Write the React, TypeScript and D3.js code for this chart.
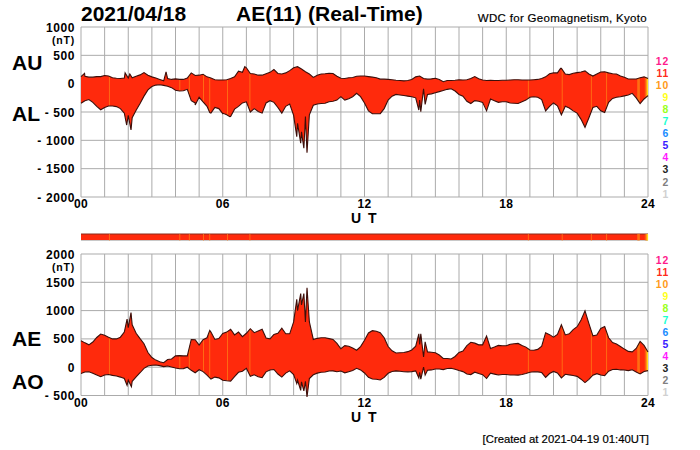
import React, { useEffect, useRef } from "react";
import * as d3 from "d3";

// 10 minute readings, 00:00 to 24:00 UT (nT)
const auValues = [
  124, 130, 115, 115, 125, 125, 145, 135, 105, 95, 90, 100,
  100, 105, 130, 155, 195, 150, 120, 100, 75, 50, 90, 75,
  85, 75, 75, 100, 190, 145, 150, 165, 120, 100, 70, 65,
  65, 70, 90, 120, 220, 200, 280, 180, 170, 150, 150, 175,
  200, 250, 180, 170, 190, 230, 280, 300, 260, 210, 170, 110,
  150, 170, 175, 185, 180, 130, 95, 90, 105, 110, 130, 135,
  135, 125, 115, 105, 80, 80, 75, 70, 60, 55, 50, 55,
  75, 120, 135, 90, 80, 85, 95, 75, 35, 55, 55, 60,
  70, 65, 70, 90, 125, 85, 65, 55, 60, 55, 55, 60,
  60, 65, 70, 70, 65, 65, 65, 70, 75, 90, 120, 175,
  190, 190, 270, 170, 160, 185, 195, 205, 225, 170, 135, 170,
  205, 210, 190, 175, 170, 135, 112, 82, 82, 82, 105, 120, 90,
];
const alValues = [
  -345, -300, -280, -330, -400, -460, -420, -395, -395, -405, -440, -520,
  -560, -600, -470, -350, -220, -110, -50, -25, -20, -30, -45, -70,
  -115, -130, -125, -100, -300, -340, -240, -320, -400, -520, -420, -440,
  -530, -550, -580, -450, -400, -340, -320, -500, -440, -490, -520, -340,
  -300, -330, -420, -520, -400, -360, -560, -700, -850, -580, -550, -380,
  -360, -350, -345, -320, -310, -290, -230, -290, -265, -230, -170, -230,
  -340, -480, -530, -530, -530, -440, -290, -220, -190, -200, -210, -220,
  -230, -250, -290, -90, -190, -180, -160, -140, -120, -100, -90, -130,
  -190, -220, -310, -350, -300, -310, -330, -480, -270, -300, -330, -320,
  -320, -340, -345, -350, -320, -290, -240, -230, -240, -280, -480, -400,
  -340, -390, -550, -400, -430, -480, -520, -630, -770, -600, -420, -400,
  -480, -510, -330, -260, -240, -230, -215, -200, -170, -250, -350, -270, -210,
];
const aeValues = [
  469, 430, 395, 445, 525, 585, 565, 530, 500, 500, 530, 620,
  700, 750, 600, 505, 415, 260, 170, 125, 95, 80, 135, 145,
  200, 205, 200, 200, 490, 485, 390, 485, 520, 620, 490, 505,
  595, 620, 670, 570, 620, 540, 600, 680, 610, 640, 670, 515,
  500, 580, 600, 690, 590, 590, 800, 1000, 1100, 800, 800, 490,
  510, 520, 520, 505, 490, 420, 325, 380, 370, 340, 300, 365,
  475, 605, 645, 635, 610, 520, 365, 290, 250, 255, 260, 275,
  305, 370, 400, 180, 270, 265, 255, 215, 155, 155, 145, 190,
  260, 285, 380, 440, 425, 395, 395, 550, 330, 355, 385, 380,
  380, 405, 415, 420, 385, 355, 305, 300, 315, 370, 610, 575,
  530, 580, 750, 570, 590, 665, 715, 835, 995, 770, 555, 570,
  685, 720, 520, 435, 410, 365, 320, 280, 270, 330, 455, 385, 270,
];
const aoValues = [
  -110, -85, -82, -108, -138, -168, -138, -130, -145, -155, -175, -200,
  -230, -250, -170, -98, -20, 20, 35, 38, 28, 10, 22, 2,
  -15, -28, -25, 0, -55, -98, -45, -78, -140, -210, -175, -188,
  -232, -240, -245, -165, -90, -70, -20, -160, -135, -170, -185, -82,
  -50, -40, -120, -175, -105, -65, -130, -230, -260, -250, -200, -135,
  -105, -90, -85, -68, -65, -80, -68, -100, -80, -60, -20, -48,
  -102, -178, -208, -212, -225, -180, -108, -75, -65, -72, -80, -82,
  -78, -65, -90, 0, -55, -48, -32, -32, -42, -22, -18, -35,
  -60, -78, -120, -130, -88, -112, -132, -200, -105, -122, -138, -130,
  -130, -138, -138, -140, -128, -112, -88, -80, -82, -95, -180, -112,
  -75, -100, -190, -125, -135, -148, -162, -212, -272, -215, -142, -115,
  -138, -150, -70, -42, -35, -48, -50, -60, -45, -85, -120, -75, -60,
];

// narrow substorm spikes that fall between the 10 minute readings: [minute, nT]
const auSpikes = [[9, 182], [112, 190], [124, 170], [216, 210], [416, 300], [1218, 270]];
const alSpikes = [[116, -730], [127, -817], [290, -376], [327, -510], [361, -523], [378, -582], [548, -935], [558, -1050], [566, -1140], [574, -1217], [858, -465], [863, -494], [874, -365]];
const aeSpikes = [[117, 850], [127, 965], [327, 650], [548, 1200], [558, 1300], [566, 1300], [574, 1405], [858, 590], [863, 590], [874, 447]];
const aoSpikes = [[117, -320], [128, -345], [548, -290], [558, -410], [566, -420], [574, -525], [858, -190], [863, -210], [874, -140]];

// minutes where fewer stations reported (orange / yellow stripes)
const tenStationMinutes = [72, 251, 275, 311, 327, 372, 429, 1136, 1222, 1296, 1335, 1414, 1416, 1418, 1433, 1436];
const nineStationMinutes = [1439];

const stationLabels = ["12", "11", "10", "9", "8", "7", "6", "5", "4", "3", "2", "1"];
const stationColors = ["#ff1a8c", "#ff2a1a", "#ff9a1a", "#ffff1a", "#9aff1a", "#1affd0", "#1a8cff", "#3a1aff", "#ff1aff", "#222222", "#808080", "#d0d0d0"];
const hourTicks = d3.range(0, 25);
const hourLabels = ["00", "06", "12", "18", "24"];
const topTicks = [1000, 500, 0, -500, -1000, -1500, -2000];
const bottomTicks = [2000, 1500, 1000, 500, 0, -500];

const FONT = "'Liberation Sans', Arial, sans-serif";
const RED = "#ff2a0c";
const ORANGE = "#ff7a14";
const YELLOW = "#ffd81a";

type Pt = [number, number];

const withSpikes = (values: number[], spikes: number[][]): Pt[] => {
  const pts: Pt[] = values.map((v, i) => [i * 10, v]);
  spikes.forEach((s) => pts.push([s[0], s[1]]));
  return pts.sort((a, b) => a[0] - b[0]);
};

const App = () => {
  const svgRef = useRef<SVGSVGElement | null>(null);

  useEffect(() => {
    const svg = d3.select(svgRef.current);
    svg.selectAll("*").remove();

    const x = d3.scaleLinear().domain([0, 1440]).range([81, 648]);

    const label = (
      tx: number,
      ty: number,
      str: string,
      size: number,
      anchor = "start",
      weight = "bold",
      color = "#000",
      spacing = 0
    ) =>
      svg
        .append("text")
        .attr("x", tx)
        .attr("y", ty)
        .attr("font-family", FONT)
        .attr("font-size", size)
        .attr("font-weight", weight)
        .attr("text-anchor", anchor)
        .attr("letter-spacing", spacing)
        .attr("fill", color)
        .text(str);

    const panel = (
      id: string,
      y: d3.ScaleLinear<number, number>,
      ticks: number[],
      upper: Pt[],
      lower: Pt[],
      stationTop: number
    ) => {
      const [bottom, top] = y.range();
      const grid = svg.append("g").attr("stroke", "#ababab").attr("stroke-width", 1);
      hourTicks.forEach((h) => {
        grid
          .append("line")
          .attr("x1", x(h * 60))
          .attr("x2", x(h * 60))
          .attr("y1", top)
          .attr("y2", bottom);
      });
      ticks.forEach((t) => {
        grid
          .append("line")
          .attr("x1", x(0))
          .attr("x2", x(1440))
          .attr("y1", y(t))
          .attr("y2", y(t));
      });

      // upper and lower curves do not share minutes, so the band is a closed polygon
      const line = d3
        .line<Pt>()
        .x((d) => x(d[0]))
        .y((d) => y(d[1]));
      const band = line(upper.concat(lower.slice().reverse())) + "Z";

      svg.append("clipPath").attr("id", id).append("path").attr("d", band);
      svg.append("path").attr("d", band).attr("fill", RED);

      const stripes = svg.append("g").attr("clip-path", `url(#${id})`);
      tenStationMinutes.forEach((m) => {
        stripes
          .append("rect")
          .attr("x", x(m) - 0.4)
          .attr("width", 0.8)
          .attr("y", top)
          .attr("height", bottom - top)
          .attr("fill", ORANGE);
      });
      nineStationMinutes.forEach((m) => {
        stripes
          .append("rect")
          .attr("x", x(m) - 1)
          .attr("width", 1.5)
          .attr("y", top)
          .attr("height", bottom - top)
          .attr("fill", YELLOW);
      });

      [upper, lower].forEach((curve) => {
        svg
          .append("path")
          .attr("d", line(curve))
          .attr("fill", "none")
          .attr("stroke", "#3c0f0a")
          .attr("stroke-width", 1.1);
      });

      ticks.forEach((t) => {
        const txt = t < 0 ? "- " + -t : String(t);
        label(75, y(t) + 4.5, txt, 12, "end", "bold", "#000", 0.6);
      });
      label(75, top + 17, "(nT)", 10.5, "end", "bold", "#000", 0.8);

      hourLabels.forEach((h) => {
        label(x(+h * 60), bottom + 11, h, 12, "middle", "bold", "#000", 0.4);
      });
      label(x(720), bottom + 26, "U T", 14, "middle", "bold", "#000", 1.5);

      stationLabels.forEach((s, i) => {
        label(669, stationTop + i * 12.05, s, 10.4, "end", "bold", stationColors[i], 0.8);
      });
    };

    const yTop = d3.scaleLinear().domain([-2000, 1000]).range([197, 27]);
    const yBottom = d3.scaleLinear().domain([-500, 2000]).range([395.5, 254]);

    panel("auBand", yTop, topTicks, withSpikes(auValues, auSpikes), withSpikes(alValues, alSpikes), 65);
    panel("aeBand", yBottom, bottomTicks, withSpikes(aeValues, aeSpikes), withSpikes(aoValues, aoSpikes), 263.5);

    // station count strip between the two panels
    svg.append("rect").attr("x", x(0)).attr("width", x(1440) - x(0)).attr("y", 234).attr("height", 6.5).attr("fill", RED);
    svg.append("line").attr("x1", x(0)).attr("x2", x(1440)).attr("y1", 234).attr("y2", 234).attr("stroke", "#8a2a1a").attr("stroke-width", 1);
    svg.append("line").attr("x1", x(0)).attr("x2", x(1440)).attr("y1", 240.5).attr("y2", 240.5).attr("stroke", "#c8c8c8").attr("stroke-width", 1);
    tenStationMinutes.forEach((m) => {
      svg.append("rect").attr("x", x(m) - 0.4).attr("width", 0.8).attr("y", 234).attr("height", 6.5).attr("fill", ORANGE);
    });
    nineStationMinutes.forEach((m) => {
      svg.append("rect").attr("x", x(m) - 1).attr("width", 1.5).attr("y", 234).attr("height", 6.5).attr("fill", YELLOW);
    });

    label(81, 21, "2021/04/18", 21);
    label(236, 21, "AE(11) (Real-Time)", 21, "start", "bold", "#000", 0.1);
    label(647, 22, "WDC for Geomagnetism, Kyoto", 11.5, "end", "normal", "#000", 0.3)
      .attr("stroke", "#000")
      .attr("stroke-width", 0.2);
    label(12, 70, "AU", 21);
    label(12, 121, "AL", 21);
    label(12, 346, "AE", 21);
    label(12, 389, "AO", 21);
    label(649, 443, "[Created at 2021-04-19 01:40UT]", 11.3, "end", "normal", "#000", 0)
      .attr("stroke", "#000")
      .attr("stroke-width", 0.2);
  }, []);

  return (
    <svg
      ref={svgRef}
      width={700}
      height={450}
      style={{ position: "absolute", left: 0, top: 0, background: "#fff" }}
    ></svg>
  );
};

export default App;
